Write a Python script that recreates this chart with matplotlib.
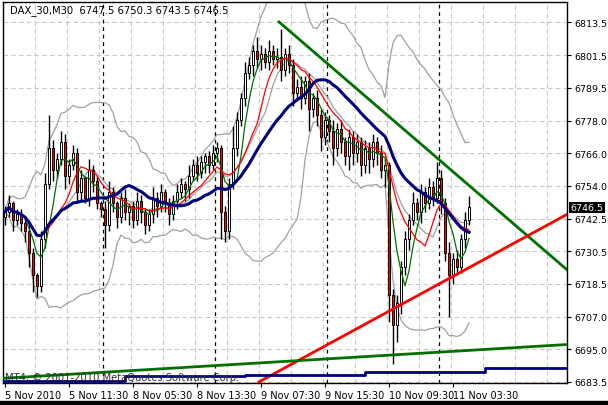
import numpy as np
import matplotlib
matplotlib.use("Agg")
import matplotlib.pyplot as plt
from matplotlib.patches import Rectangle

closes = [6745, 6748, 6742, 6744, 6741,
          6738, 6730, 6722, 6718,
          6735, 6755, 6768,
          6760, 6764, 6770, 6758, 6762, 6766,
          6752, 6757, 6750, 6760, 6756, 6748, 6746,
          6740, 6752, 6748, 6743, 6750, 6745, 6747, 6742,
          6749, 6745, 6740, 6744, 6750, 6747, 6752, 6748, 6744, 6749,
          6752, 6755, 6753, 6758, 6762, 6759, 6763, 6765, 6762, 6766, 6768,
          6745, 6738, 6755,
          6768, 6778, 6786, 6795, 6798, 6803, 6800,
          6802, 6799, 6803, 6800, 6801, 6796, 6802, 6798,
          6788, 6790, 6786, 6792, 6782,
          6786, 6780, 6772, 6778, 6774, 6768, 6775, 6770, 6765, 6772,
          6766, 6770, 6762, 6768, 6764, 6770, 6766, 6760, 6762,
          6715, 6704, 6712, 6725,
          6735, 6742, 6748, 6745, 6752, 6748, 6754, 6750,
          6757, 6748, 6730,
          6722, 6728, 6725, 6735, 6742, 6746.5]
hi_ext = [2, 3, 1, 2, 2, 2, 3, 2, 1, 3, 4, 12, 3, 2, 4, 3, 2, 3, 2, 3, 1, 4, 2, 2, 1,
          3, 4, 2, 1, 2, 3, 1, 2, 3, 2, 1, 2, 4, 2, 3, 1, 2, 2, 3, 2, 1, 4, 2, 3, 2, 1, 2, 3, 2,
          1, 2, 2, 8, 3, 2, 4, 3, 2, 5, 3, 2, 4, 2, 3, 10, 2, 3, 2, 3, 4, 2, 3, 2, 3, 2, 3, 2, 4,
          2, 3, 2, 3, 2, 3, 2, 3, 2, 3, 2, 3, 2, 1, 2, 3, 2, 3, 2, 4, 2, 3, 2, 3, 2, 6, 3, 2, 4,
          2, 3, 2, 3, 4]
lo_ext = [3, 2, 4, 2, 3, 4, 5, 6, 4, 2, 3, 2, 4, 3, 2, 5, 3, 2, 4, 3, 2, 3, 4, 2, 3,
          8, 2, 3, 4, 2, 3, 5, 3, 2, 4, 3, 2, 3, 4, 2, 3, 4, 2, 3, 2, 4, 3, 2, 3, 2, 4, 3, 2, 3,
          10, 4, 3, 2, 3, 2, 3, 2, 4, 3, 4, 2, 3, 2, 3, 4, 2, 3, 5, 3, 4, 2, 8, 3, 4, 5, 3, 4, 6,
          3, 4, 3, 5, 4, 3, 4, 3, 5, 3, 4, 3, 6, 10, 14, 6, 4, 3, 4, 2, 3, 4, 3, 2, 3, 2, 4, 3, 15,
          3, 3, 2, 3, 2]
first_open = 6743.0

ytick_vals = [6683.5, 6695.0, 6707.0, 6718.5, 6730.5, 6742.5, 6754.0, 6766.0, 6778.0, 6789.5, 6801.5, 6813.5]
ytick_pos = [6683.5, 6695.3, 6707.1, 6718.9, 6730.7, 6742.5, 6754.3, 6766.1, 6777.9, 6789.7, 6801.5, 6813.3]
xtick_idx = [0, 16, 32, 48, 64, 80, 96, 112]
xtick_labels = ["5 Nov 2010", "5 Nov 11:30", "8 Nov 05:30", "8 Nov 13:30",
                "9 Nov 07:30", "9 Nov 15:30", "10 Nov 09:30", "11 Nov 03:30"]
day_seps = [24.5, 52.5, 80.5, 108.5]
green_tl = ([68.5, 140.5], [6813.5, 6724.0])
red_tl = ([63.5, 140.5], [6683.5, 6744.0])
green_low = ([-0.5, 140.5], [6684.8, 6697.0])
blue_low = ([-0.5, 30, 60, 90, 120, 140.5], [6684.0, 6685.5, 6686.0, 6687.0, 6688.5, 6688.5])

c = np.array(closes)
o = np.concatenate([[first_open], c[:-1]])
h = np.maximum(o, c) + np.array(hi_ext)
l = np.minimum(o, c) - np.array(lo_ext)
n = len(c)
x = np.arange(n)

def sma(v, p):
    return np.array([v[max(0, i - p + 1):i + 1].mean() for i in range(len(v))])

fig = plt.figure(figsize=(6.08, 4.06), dpi=100, facecolor="white")
ax = fig.add_axes([3/608, 22/406, 564/608, 381/406])
ax.set_xlim(-0.5, 140.5)
ax.set_ylim(6683.1, 6820.7)

for yp in ytick_pos:
    ax.axhline(yp, color="#c8c8c8", lw=0.8, ls=(0, (4, 3)), zorder=0)
for xi in np.arange(0, 141, 8):
    ax.axvline(xi - 0.5, color="#c8c8c8", lw=0.8, ls=(0, (4, 3)), zorder=0)
for d in day_seps:
    ax.axvline(d, color="black", lw=0.9, ls=(0, (3, 3)), zorder=1)

bb_mid = sma(c, 20)
bb_sd = np.array([c[max(0, i - 19):i + 1].std() for i in range(n)])
ax.plot(x, bb_mid + 2.3 * bb_sd, color="#a0a0a0", lw=0.9, zorder=2)
ax.plot(x, bb_mid - 2.3 * bb_sd, color="#a0a0a0", lw=0.9, zorder=2)
ax.plot(x, sma(c, 12), color="#a0a0a0", lw=0.9, zorder=2)
ax.plot(x, sma(c, 5), color="#007000", lw=0.9, zorder=4)
ax.plot(x, sma(c, 10), color="red", lw=0.9, zorder=4)
ax.plot(x, sma(c, 22), color="#000080", lw=2.2, zorder=4)

for i in range(n):
    ax.vlines(x[i], l[i], h[i], color="black", lw=1, zorder=3)
    bot, top = min(o[i], c[i]), max(o[i], c[i])
    fc = "white" if c[i] >= o[i] else "red"
    ax.add_patch(Rectangle((x[i] - 0.3, bot), 0.6, max(top - bot, 0.3),
                           facecolor=fc, edgecolor="black", lw=0.7, zorder=3.5))

ax.plot(*green_tl, color="#007000", lw=2, zorder=5)
ax.plot(*red_tl, color="red", lw=2, zorder=5)
ax.plot(*green_low, color="#007000", lw=2, zorder=5)
ax.plot(*blue_low, color="#000080", lw=2, zorder=5, drawstyle="steps-post")

ax.yaxis.tick_right()
ax.set_yticks(ytick_pos)
ax.set_yticklabels([f"{v:.1f}" for v in ytick_vals], fontsize=6.8)
ax.set_xticks(xtick_idx)
ax.set_xticklabels(xtick_labels, fontsize=7, ha="left")
ax.tick_params(length=3, width=0.8, pad=2)
for s in ax.spines.values():
    s.set_linewidth(1)

ax.text(0.012, 0.995, "DAX_30,M30  6747.5 6750.3 6743.5 6746.5", transform=ax.transAxes,
        fontsize=7.2, va="top", ha="left", zorder=6)
ax.text(0.004, 0.003, "MT4, © 2001-2010 MetaQuotes Software Corp.", transform=ax.transAxes,
        fontsize=7.2, va="bottom", ha="left", color="#303030", zorder=6)
ax.text(1.006, 6746.5, "6746.5", transform=ax.get_yaxis_transform(), fontsize=6.8,
        va="center", ha="left", color="white",
        bbox=dict(facecolor="black", edgecolor="none", pad=1), zorder=6, clip_on=False)

fig.patches.append(Rectangle((0, 0), 1, 4/406, transform=fig.transFigure, color="black"))
fig.savefig("out.png", dpi=100, facecolor="white")
